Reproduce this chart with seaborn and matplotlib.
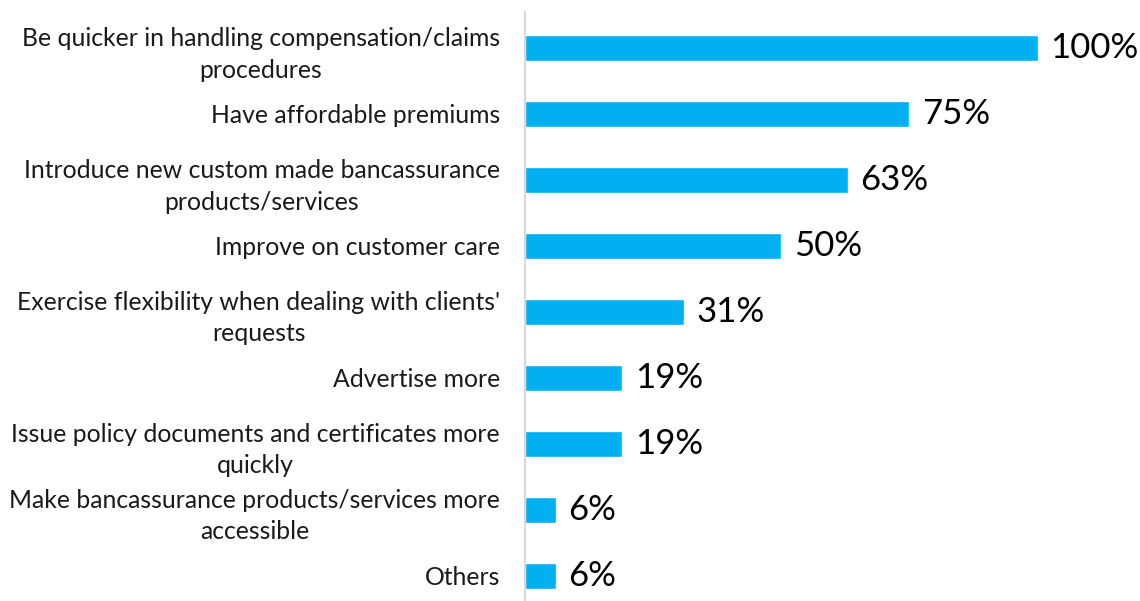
import matplotlib
matplotlib.use("Agg")
import matplotlib.pyplot as plt
import seaborn as sns
import pandas as pd

categories = [
    "Be quicker in handling compensation/claims\nprocedures",
    "Have affordable premiums",
    "Introduce new custom made bancassurance\nproducts/services",
    "Improve on customer care",
    "Exercise flexibility when dealing with clients'\nrequests",
    "Advertise more",
    "Issue policy documents and certificates more\nquickly",
    "Make bancassurance products/services more\naccessible",
    "Others",
]
values = [100, 75, 63, 50, 31, 19, 19, 6, 6]

df = pd.DataFrame({"reason": categories, "share": values})

sns.set_theme(style="white")
plt.rcParams["font.family"] = ["Lato", "DejaVu Sans"]

fig = plt.figure(figsize=(11.4, 6.01), dpi=100)
ax = fig.add_axes([525 / 1140, 0.0, 1 - 525 / 1140, 1 - 12 / 601])

sns.barplot(data=df, x="share", y="reason", orient="h", color="#00B0F0",
            saturation=1, width=0.4, ax=ax)

ax.set_xlim(0, 120)
ax.set_ylim(8.38, -0.545)
ax.set_xlabel("")
ax.set_ylabel("")
ax.set_xticks([])

for lab in ax.get_yticklabels():
    lab.set_fontsize(17.8)
    lab.set_color("#1a1a1a")
    lab.set_multialignment("center")
    lab.set_linespacing(1.45)
ax.tick_params(axis="y", length=0, pad=18)

for s in ["top", "right", "bottom"]:
    ax.spines[s].set_visible(False)
ax.spines["left"].set_color("#D9D9D9")
ax.spines["left"].set_linewidth(1.5)

ax.bar_label(ax.containers[0], labels=[f"{v}%" for v in values],
             padding=9, fontsize=25, color="#000000")

fig.savefig("out.png", dpi=100)
